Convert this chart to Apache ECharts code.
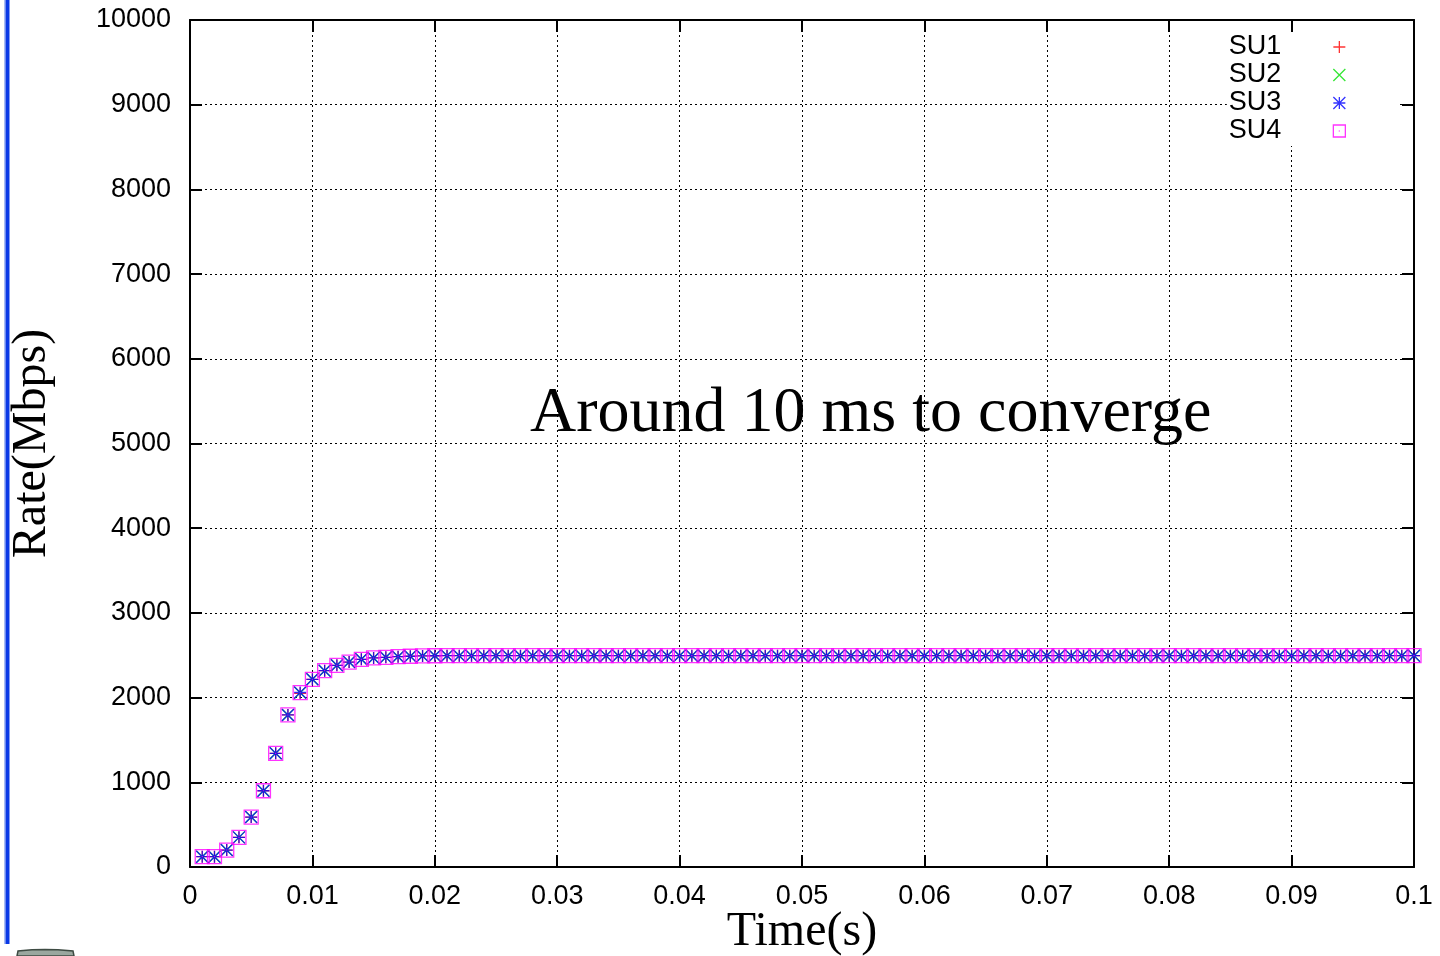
<!DOCTYPE html>
<html>
<head>
<meta charset="utf-8">
<title>Rate convergence of SU1–SU4</title>
<script src="https://cdn.jsdelivr.net/npm/echarts@6/dist/echarts.min.js"></script>
<style>
  html, body { margin: 0; padding: 0; background: #fff; }
  #chart { width: 1440px; height: 956px; }
</style>
</head>
<body>
<div id="chart"></div>
<script>
// Sampling instants (s), one sample per millisecond
const times = [
  0.001, 0.002, 0.003, 0.004, 0.005, 0.006, 0.007, 0.008, 0.009, 0.010,
  0.011, 0.012, 0.013, 0.014, 0.015, 0.016, 0.017, 0.018, 0.019, 0.020,
  0.021, 0.022, 0.023, 0.024, 0.025, 0.026, 0.027, 0.028, 0.029, 0.030,
  0.031, 0.032, 0.033, 0.034, 0.035, 0.036, 0.037, 0.038, 0.039, 0.040,
  0.041, 0.042, 0.043, 0.044, 0.045, 0.046, 0.047, 0.048, 0.049, 0.050,
  0.051, 0.052, 0.053, 0.054, 0.055, 0.056, 0.057, 0.058, 0.059, 0.060,
  0.061, 0.062, 0.063, 0.064, 0.065, 0.066, 0.067, 0.068, 0.069, 0.070,
  0.071, 0.072, 0.073, 0.074, 0.075, 0.076, 0.077, 0.078, 0.079, 0.080,
  0.081, 0.082, 0.083, 0.084, 0.085, 0.086, 0.087, 0.088, 0.089, 0.090,
  0.091, 0.092, 0.093, 0.094, 0.095, 0.096, 0.097, 0.098, 0.099, 0.100
];

// Rate of each secondary user (Mbps)
const su1 = [
  122, 122, 200, 350, 590, 900, 1342, 1795, 2050, 2216,
  2318, 2381, 2420, 2452, 2468, 2476, 2483, 2488, 2492, 2494,
  2495, 2495, 2495, 2495, 2495, 2495, 2495, 2495, 2495, 2495,
  2495, 2495, 2495, 2495, 2495, 2495, 2495, 2495, 2495, 2495,
  2495, 2495, 2495, 2495, 2495, 2495, 2495, 2495, 2495, 2495,
  2495, 2495, 2495, 2495, 2495, 2495, 2495, 2495, 2495, 2495,
  2495, 2495, 2495, 2495, 2495, 2495, 2495, 2495, 2495, 2495,
  2495, 2495, 2495, 2495, 2495, 2495, 2495, 2495, 2495, 2495,
  2495, 2495, 2495, 2495, 2495, 2495, 2495, 2495, 2495, 2495,
  2495, 2495, 2495, 2495, 2495, 2495, 2495, 2495, 2495, 2495
];
const su2 = [
  122, 122, 200, 350, 590, 900, 1342, 1795, 2058, 2216,
  2318, 2381, 2420, 2452, 2468, 2476, 2483, 2488, 2492, 2494,
  2495, 2495, 2495, 2495, 2495, 2495, 2495, 2495, 2495, 2495,
  2495, 2495, 2495, 2495, 2495, 2495, 2495, 2495, 2495, 2495,
  2495, 2495, 2495, 2495, 2495, 2495, 2495, 2495, 2495, 2495,
  2495, 2495, 2495, 2495, 2495, 2495, 2495, 2495, 2495, 2495,
  2495, 2495, 2495, 2495, 2495, 2495, 2495, 2495, 2495, 2495,
  2495, 2495, 2495, 2495, 2495, 2495, 2495, 2495, 2495, 2495,
  2495, 2495, 2495, 2495, 2495, 2495, 2495, 2495, 2495, 2495,
  2495, 2495, 2495, 2495, 2495, 2495, 2495, 2495, 2495, 2495
];
const su3 = [
  122, 122, 200, 350, 590, 900, 1342, 1795, 2060, 2216,
  2318, 2381, 2420, 2452, 2468, 2476, 2483, 2488, 2492, 2494,
  2495, 2495, 2495, 2495, 2495, 2495, 2495, 2495, 2495, 2495,
  2495, 2495, 2495, 2495, 2495, 2495, 2495, 2495, 2495, 2495,
  2495, 2495, 2495, 2495, 2495, 2495, 2495, 2495, 2495, 2495,
  2495, 2495, 2495, 2495, 2495, 2495, 2495, 2495, 2495, 2495,
  2495, 2495, 2495, 2495, 2495, 2495, 2495, 2495, 2495, 2495,
  2495, 2495, 2495, 2495, 2495, 2495, 2495, 2495, 2495, 2495,
  2495, 2495, 2495, 2495, 2495, 2495, 2495, 2495, 2495, 2495,
  2495, 2495, 2495, 2495, 2495, 2495, 2495, 2495, 2495, 2495
];
const su4 = [
  122, 122, 200, 350, 590, 900, 1342, 1795, 2058, 2216,
  2318, 2381, 2420, 2452, 2468, 2476, 2483, 2488, 2492, 2494,
  2495, 2495, 2495, 2495, 2495, 2495, 2495, 2495, 2495, 2495,
  2495, 2495, 2495, 2495, 2495, 2495, 2495, 2495, 2495, 2495,
  2495, 2495, 2495, 2495, 2495, 2495, 2495, 2495, 2495, 2495,
  2495, 2495, 2495, 2495, 2495, 2495, 2495, 2495, 2495, 2495,
  2495, 2495, 2495, 2495, 2495, 2495, 2495, 2495, 2495, 2495,
  2495, 2495, 2495, 2495, 2495, 2495, 2495, 2495, 2495, 2495,
  2495, 2495, 2495, 2495, 2495, 2495, 2495, 2495, 2495, 2495,
  2495, 2495, 2495, 2495, 2495, 2495, 2495, 2495, 2495, 2495
];

const seriesNames = ['SU1', 'SU2', 'SU3', 'SU4'];
const seriesValues = [su1, su2, su3, su4];
const seriesColors = ['#ff0000', '#00e000', '#0000ff', '#ff00ff'];

// Gnuplot-like point types: plus, cross, star, box with a centre dot
const pointShapes = [
  'path://M5,0L5,10M0,5L10,5',
  'path://M0,0L10,10M10,0L0,10',
  'path://M5,0L5,10M0,5L10,5M0,0L10,10M10,0L0,10',
  'path://M0,0L10,0L10,10L0,10ZM5,4.6L5,5.4'
];
const pointSizes = [12, 12, 12, 14];

const xTickLabel = v => String(+v.toFixed(2));
const yTickLabel = v => String(v);

const sansFont = 'Liberation Sans';
const serifFont = 'Liberation Serif';

// Closed frame: every side carries an inward-facing tick at each grid step
function frameAxis(extra) {
  return Object.assign({
    axisLine: { show: true, onZero: false, lineStyle: { color: '#000', width: 2 } },
    axisTick: { show: true, inside: true, length: 12, lineStyle: { color: '#000', width: 2 } }
  }, extra);
}
function gridDots() {
  return { show: true, lineStyle: { color: '#000', width: 1, type: [2, 3] } };
}

const series = seriesNames.map((name, i) => ({
  name,
  type: 'scatter',
  data: times.map((t, k) => [t, seriesValues[i][k]]),
  symbol: pointShapes[i],
  symbolSize: pointSizes[i],
  itemStyle: { color: 'rgba(0,0,0,0)', borderColor: seriesColors[i], borderWidth: 1.3 },
  emphasis: { disabled: true },
  z: 2 + i
}));

const chart = echarts.init(document.getElementById('chart'), null, { renderer: 'canvas' });
chart.setOption({
  animation: false,
  backgroundColor: '#fff',
  grid: { left: 190, right: 26, top: 20, bottom: 89, containLabel: false, outerBoundsMode: 'none' },
  legend: {
    data: seriesNames,
    orient: 'vertical',
    align: 'right',
    right: 40,
    top: 33,
    padding: [0, 54, 1, 2],
    backgroundColor: '#fff',
    itemGap: 0,
    itemWidth: 12,
    itemHeight: 12,
    selectedMode: false,
    itemStyle: { borderWidth: 1.3 },
    textStyle: {
      fontFamily: sansFont, fontSize: 27, color: '#000',
      lineHeight: 28, padding: [0, 47, 0, 0]
    }
  },
  xAxis: [
    frameAxis({
      type: 'value', position: 'bottom', min: 0, max: 0.1, interval: 0.01,
      axisLabel: { fontFamily: sansFont, fontSize: 27, color: '#000', margin: 16, formatter: xTickLabel },
      splitLine: gridDots(),
      name: 'Time(s)', nameLocation: 'middle', nameGap: 41, nameMoveOverlap: false,
      nameTextStyle: { fontFamily: serifFont, fontSize: 48, color: '#000' }
    }),
    frameAxis({
      type: 'value', position: 'top', min: 0, max: 0.1, interval: 0.01,
      axisLabel: { show: false }, splitLine: { show: false }
    })
  ],
  yAxis: [
    frameAxis({
      type: 'value', position: 'left', min: 0, max: 10000, interval: 1000,
      axisLabel: { fontFamily: sansFont, fontSize: 27, color: '#000', margin: 19, formatter: yTickLabel },
      splitLine: gridDots(),
      name: 'Rate(Mbps)', nameLocation: 'middle', nameGap: 134, nameMoveOverlap: false,
      nameTextStyle: { fontFamily: serifFont, fontSize: 48, color: '#000' }
    }),
    frameAxis({
      type: 'value', position: 'right', min: 0, max: 10000, interval: 1000,
      axisLabel: { show: false }, splitLine: { show: false }
    })
  ],
  graphic: [
    {
      type: 'text', left: 530, top: 382, z: 10,
      style: { text: 'Around 10 ms to converge', fontFamily: serifFont, fontSize: 64, fill: '#000' }
    },
    // slide edge: blue rule along the left border
    { type: 'rect', shape: { x: 4, y: 0, width: 1.5, height: 944 }, style: { fill: '#a8bcf2' }, z: 10 },
    { type: 'rect', shape: { x: 5.5, y: 0, width: 4, height: 944 }, style: { fill: '#0838e6' }, z: 10 },
    // top of a small icon at the lower-left corner
    {
      type: 'polygon', z: 10,
      shape: { points: [[17, 956], [18, 951], [32, 949.8], [45, 949.5], [58, 949.8], [73, 951], [74, 956]] },
      style: { fill: '#9aa79f', stroke: '#3e4b43', lineWidth: 1.5 }
    }
  ],
  series
});
</script>
</body>
</html>
